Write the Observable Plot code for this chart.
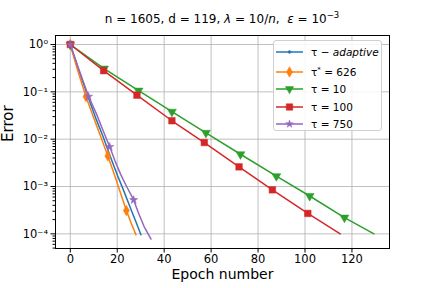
<!DOCTYPE html>
<html>
<head>
<meta charset="utf-8">
<script src="https://cdn.jsdelivr.net/npm/d3@7"></script>
<script src="https://cdn.jsdelivr.net/npm/@observablehq/plot@0.6"></script>
<style>
  html, body { margin: 0; padding: 0; background: white; }
  #wrap { position: relative; width: 432px; height: 288px; font-family: "DejaVu Sans", sans-serif; overflow: hidden; }
  #title { position: absolute; left: 55px; width: 334px; top: 12px; text-align: center; font-size: 12px; white-space: nowrap; }
  #title sup { font-size: 8.5px; vertical-align: 0; position: relative; top: -5px; }
  #legend { position: absolute; left: 273px; top: 40px; width: 109px; height: 91px; box-sizing: border-box;
            border: 1px solid #d0d0d0; border-radius: 3px; background: rgba(255,255,255,0.85); font-size: 10.5px; }
  .row { position: absolute; left: 0; height: 14px; display: flex; align-items: center; white-space: nowrap; }
  .row svg { margin-left: 2px; margin-right: 8px; }
  .row sup { font-size: 7px; position: relative; top: -4px; vertical-align: 0; }
</style>
</head>
<body>
<div id="wrap">
  <div id="chart"></div>
  <div id="title">n = 1605, d = 119, <i>λ</i> = 10/<i>n</i>,&nbsp; <i>ε</i> = 10<sup>−3</sup></div>
  <div id="legend"></div>
</div>
<script>
// ---- data ----
const xTicks = [0, 20, 40, 60, 80, 100, 120];
const yTicks = [1, 0.1, 0.01, 0.001, 0.0001];

// tau - adaptive (blue)
const adaptiveEpoch = [0, 3.2, 7.5, 10.8, 14, 17, 20, 23, 26, 28, 30.1];
const adaptiveErr   = [1, 0.331, 0.0794, 0.0282, 0.0112, 0.00437, 0.00178, 0.00076, 0.000316, 0.000178, 0.0000955];

// tau* = 626 (orange)
const starEpoch = [0, 3, 6.7, 10, 13, 16, 19, 21, 23.9, 26, 28.0];
const starErr   = [1, 0.30, 0.079, 0.028, 0.0112, 0.0044, 0.00166, 0.00083, 0.00031, 0.000166, 0.000095];
const starMarkEpoch = [0, 6.7, 16, 23.9];
const starMarkErr   = [1, 0.079, 0.0044, 0.00031];

// tau = 10 (green)
const t10Epoch = [0, 14.4, 29.1, 43.3, 57.8, 72.5, 87.8, 102, 116.8, 129.4];
const t10Err   = [1, 0.31, 0.106, 0.038, 0.0136, 0.0048, 0.00165, 0.00063, 0.00022, 0.0001];
const t10MarkEpoch = [0, 14.4, 29.1, 43.3, 57.8, 72.5, 87.8, 102, 116.8];
const t10MarkErr   = [1, 0.31, 0.106, 0.038, 0.0136, 0.0048, 0.00165, 0.00063, 0.00022];

// tau = 100 (red)
const t100Epoch = [0, 14.2, 28.4, 43.3, 57.1, 71.9, 86.1, 101.2, 115];
const t100Err   = [1, 0.28, 0.085, 0.0245, 0.0085, 0.0026, 0.00085, 0.00027, 0.0001];
const t100MarkEpoch = [0, 14.2, 28.4, 43.3, 57.1, 71.9, 86.1, 101.2];
const t100MarkErr   = [1, 0.28, 0.085, 0.0245, 0.0085, 0.0026, 0.00085, 0.00027];

// tau = 750 (purple)
const t750Epoch = [0, 3.5, 7.8, 11, 14, 16.8, 19, 21.5, 24, 27, 29, 31.5, 34.4];
const t750Err   = [1, 0.316, 0.0794, 0.0355, 0.0151, 0.0069, 0.00355, 0.00178, 0.001, 0.00052, 0.00028, 0.000141, 0.0000776];
const t750MarkEpoch = [0, 7.8, 16.8, 27];
const t750MarkErr   = [1, 0.0794, 0.0069, 0.00052];

const colors = {blue: "#1f77b4", orange: "#ff7f0e", green: "#2ca02c", red: "#d62728", purple: "#9467bd"};

const zip = (xs, ys) => xs.map((x, i) => ({x, y: ys[i]}));

const supMap = {"-": "⁻", "0": "⁰", "1": "¹", "2": "²", "3": "³", "4": "⁴", "5": "⁵", "6": "⁶", "7": "⁷", "8": "⁸", "9": "⁹"};
const fmtPow = d => "10" + String(Math.round(Math.log10(d))).split("").map(c => supMap[c]).join("");

const minorTicks = [];
for (let e = -5; e <= 0; e++) for (let m = 2; m <= 9; m++) minorTicks.push(m * Math.pow(10, e));

const lineOpts = (c) => ({x: "x", y: "y", stroke: c, strokeWidth: 1.5});
const dotOpts = (c, symbol, r, extra = {}) => ({x: "x", y: "y", fill: c, stroke: c, strokeWidth: 0.5, symbol, r, ...extra});

const chart = Plot.plot({
  width: 432, height: 288,
  marginLeft: 55, marginRight: 43, marginTop: 35, marginBottom: 40,
  style: {fontFamily: "DejaVu Sans, sans-serif", fontSize: "11px", background: "white", color: "black"},
  x: {domain: [-6.3, 136]},
  y: {type: "log", domain: [4.9e-5, 1.55]},
  marks: [
    Plot.gridX(xTicks, {stroke: "#b0b0b0", strokeOpacity: 1, strokeWidth: 0.8}),
    Plot.gridY(yTicks, {stroke: "#b0b0b0", strokeOpacity: 1, strokeWidth: 0.8}),
    Plot.line(zip(adaptiveEpoch, adaptiveErr), lineOpts(colors.blue)),
    Plot.line(zip(starEpoch, starErr), lineOpts(colors.orange)),
    Plot.dot(zip(starMarkEpoch, starMarkErr), dotOpts(colors.orange, "diamond", 3.2)),
    Plot.line(zip(t10Epoch, t10Err), lineOpts(colors.green)),
    Plot.dot(zip(t10MarkEpoch, t10MarkErr), dotOpts(colors.green, "triangle", 3.3, {rotate: 180})),
    Plot.line(zip(t100Epoch, t100Err), lineOpts(colors.red)),
    Plot.dot(zip(t100MarkEpoch, t100MarkErr), dotOpts(colors.red, "square", 3.7)),
    Plot.line(zip(t750Epoch, t750Err), lineOpts(colors.purple)),
    Plot.dot(zip(t750MarkEpoch, t750MarkErr), dotOpts(colors.purple, "star", 2.6)),
    Plot.frame({stroke: "black", strokeWidth: 1}),
    Plot.axisX(xTicks, {tickSize: 4.5, tickPadding: 2, fontSize: 11.5, tickFormat: d => String(d), label: null}),
    Plot.axisY(yTicks, {tickSize: 4.5, tickPadding: 3, fontSize: 11.5, tickFormat: fmtPow, label: null}),
    Plot.axisY(minorTicks.filter(v => v > 4.9e-5 && v < 1.55), {tickSize: 2.5, tickFormat: () => "", label: null}),
    Plot.text(["Epoch number"], {frameAnchor: "bottom", dy: 30, fontSize: 14}),
    Plot.text(["Error"], {frameAnchor: "left", dx: -47, rotate: -90, fontSize: 15})
  ]
});
document.getElementById("chart").appendChild(chart);

// ---- legend ----
const legendItems = [
  {label: "τ − <i>adaptive</i>", color: colors.blue, symbol: d3.symbolCircle, size: 6, top: 4},
  {label: "τ<sup>*</sup> = 626", color: colors.orange, symbol: d3.symbolDiamond, size: 32, top: 24},
  {label: "τ = 10", color: colors.green, symbol: d3.symbolTriangle, size: 30, rotate: 180, top: 41},
  {label: "τ = 100", color: colors.red, symbol: d3.symbolSquare, size: 42, top: 59},
  {label: "τ = 750", color: colors.purple, symbol: d3.symbolStar, size: 18, top: 76}
];
const legend = d3.select("#legend");
for (const it of legendItems) {
  const row = legend.append("div").attr("class", "row").style("top", it.top + "px");
  const svg = row.append("svg").attr("width", 27).attr("height", 14);
  svg.append("line").attr("x1", 0).attr("x2", 27).attr("y1", 7).attr("y2", 7)
     .attr("stroke", it.color).attr("stroke-width", 1.5);
  svg.append("path").attr("d", d3.symbol(it.symbol, it.size)())
     .attr("transform", `translate(13.5,7) rotate(${it.rotate || 0})`)
     .attr("fill", it.color).attr("stroke", it.color).attr("stroke-width", 0.5);
  row.append("span").html(it.label);
}
</script>
</body>
</html>
